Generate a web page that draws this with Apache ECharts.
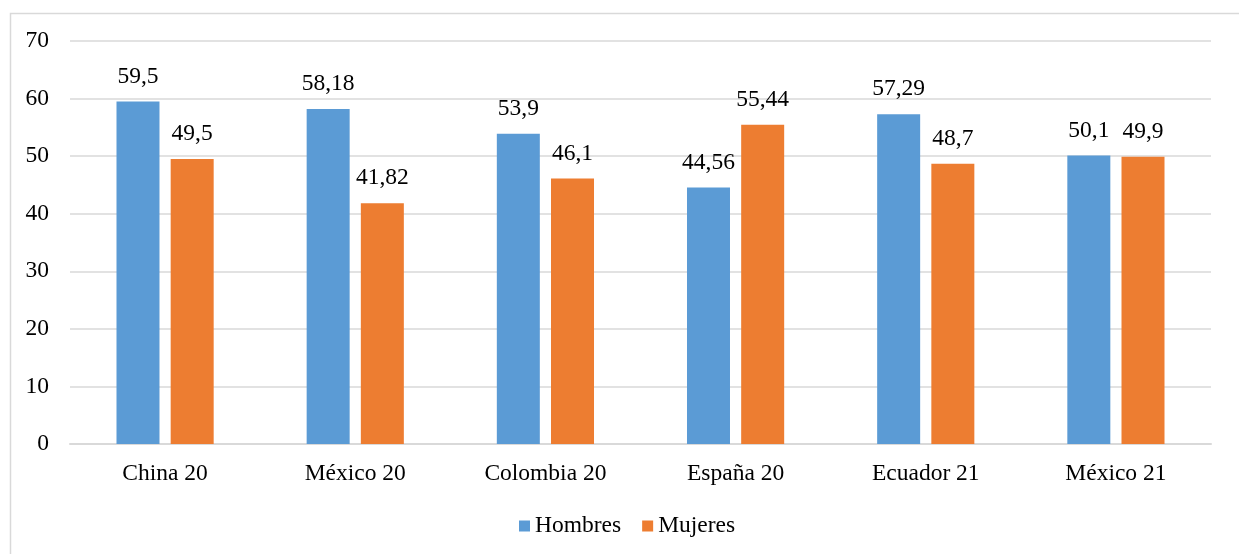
<!DOCTYPE html>
<html>
<head>
<meta charset="utf-8">
<script src="https://cdn.jsdelivr.net/npm/echarts@6/dist/echarts.min.js"></script>
<style>html,body{margin:0;padding:0;background:#fff;}#c{width:1239px;height:554px;}</style>
</head>
<body>
<div id="c"></div>
<script>
const categories = ['China 20', 'México 20', 'Colombia 20', 'España 20', 'Ecuador 21', 'México 21'];
const hombres = [59.5, 58.18, 53.9, 44.56, 57.29, 50.1];
const mujeres = [49.5, 41.82, 46.1, 55.44, 48.7, 49.9];
const seriesNames = ['Hombres', 'Mujeres'];

const font = 'Liberation Serif, Times New Roman, serif';
const fs = 23.5;
const chart = echarts.init(document.getElementById('c'));
const fmt = p => String(p.value).replace('.', ',');
chart.setOption({
  animation: false,
  backgroundColor: '#fff',
  textStyle: { fontFamily: font },
  graphic: [{
    type: 'rect', left: 8, top: 11, z: -1,
    shape: { width: 1240, height: 550 },
    style: { fill: 'none', stroke: '#d9d9d9', lineWidth: 1.5 }
  }],
  grid: { left: 70, right: 28, top: 41, bottom: 110, containLabel: false },
  legend: {
    top: 509, left: 514,
    itemWidth: 11, itemHeight: 11, itemGap: 21,
    icon: 'rect',
    textStyle: { fontFamily: font, fontSize: fs, color: '#000' },
    data: seriesNames
  },
  xAxis: {
    type: 'category', data: categories,
    axisLine: { lineStyle: { color: '#d9d9d9', width: 2 } },
    axisTick: { show: false },
    axisLabel: { fontFamily: font, fontSize: fs, color: '#000', margin: 18 }
  },
  yAxis: {
    type: 'value', min: 0, max: 70, interval: 10,
    axisLine: { show: false }, axisTick: { show: false },
    splitLine: { lineStyle: { color: '#d9d9d9', width: 1.5 } },
    axisLabel: { fontFamily: font, fontSize: fs, color: '#000', margin: 21 }
  },
  series: [
    { name: seriesNames[0], type: 'bar', data: hombres, barWidth: 43, barGap: '26%',
      itemStyle: { color: '#5b9bd5' },
      label: { show: true, position: 'top', distance: 13, fontFamily: font, fontSize: fs, color: '#000', formatter: fmt } },
    { name: seriesNames[1], type: 'bar', data: mujeres, barWidth: 43,
      itemStyle: { color: '#ed7d31' },
      label: { show: true, position: 'top', distance: 13, fontFamily: font, fontSize: fs, color: '#000', formatter: fmt } }
  ]
});
</script>
</body>
</html>
